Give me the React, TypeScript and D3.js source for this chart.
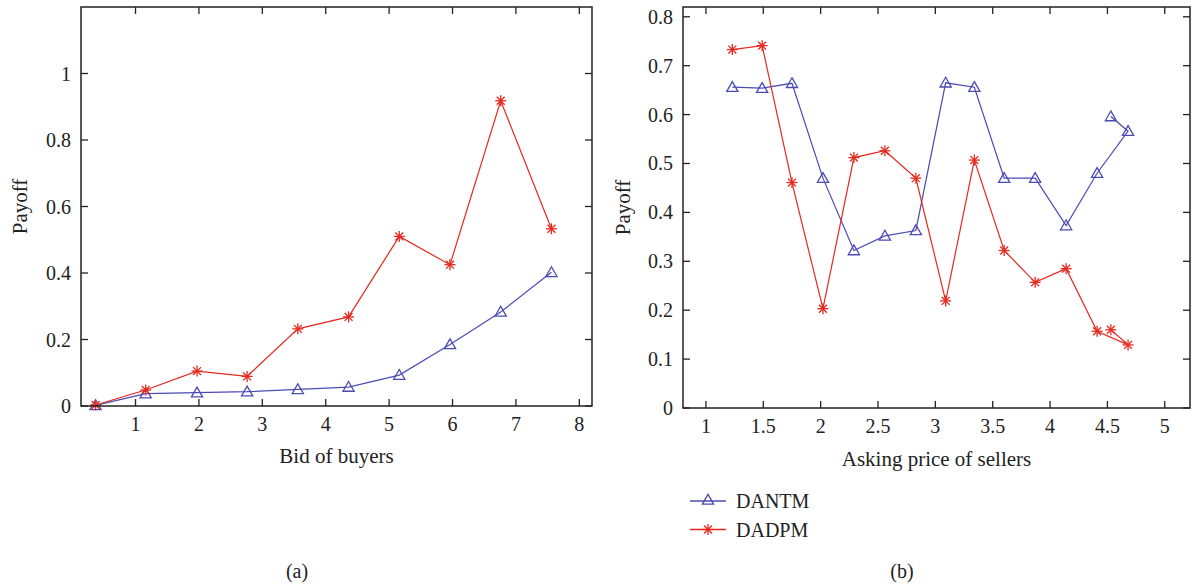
import React from "react";
import * as d3 from "d3";

// Panel (a)
const bidX = [0.37, 1.16, 1.97, 2.76, 3.56, 4.36, 5.16, 5.96, 6.76, 7.56];
const dantmA = [0.002, 0.037, 0.04, 0.043, 0.05, 0.057, 0.093, 0.185, 0.283, 0.402];
const dadpmA = [0.003, 0.048, 0.105, 0.089, 0.232, 0.268, 0.51, 0.425, 0.918, 0.533];
const xTicksA = [1, 2, 3, 4, 5, 6, 7, 8];
const yTicksA = [0, 0.2, 0.4, 0.6, 0.8, 1];

// Panel (b)
const askX = [1.23, 1.49, 1.75, 2.02, 2.29, 2.56, 2.83, 3.09, 3.34, 3.6, 3.87, 4.14, 4.41, 4.68, 4.53];
const dantmB = [0.656, 0.654, 0.664, 0.47, 0.322, 0.352, 0.363, 0.665, 0.656, 0.47, 0.47, 0.373, 0.48, 0.566, 0.596];
const dadpmB = [0.733, 0.741, 0.461, 0.203, 0.512, 0.526, 0.47, 0.219, 0.507, 0.322, 0.257, 0.285, 0.157, 0.129, 0.16];
const xTicksB = [1, 1.5, 2, 2.5, 3, 3.5, 4, 4.5, 5];
const yTicksB = [0, 0.1, 0.2, 0.3, 0.4, 0.5, 0.6, 0.7, 0.8];

const seriesNames = ["DANTM", "DADPM"];
const BLUE = "#4b4bb5";
const RED = "#e6281e";
const FONT = "'Liberation Serif', 'Times New Roman', serif";
const FS = 20;

function Triangle({ x, y }: { x: number; y: number }) {
  const s = 5.6;
  return (
    <path
      d={`M${x},${y - s}L${x + s},${y + s * 0.75}L${x - s},${y + s * 0.75}Z`}
      fill="none"
      stroke={BLUE}
      strokeWidth={1.3}
    />
  );
}

function Star({ x, y }: { x: number; y: number }) {
  const s = 5.5;
  const d = s * 0.72;
  return (
    <g stroke={RED} strokeWidth={1.3}>
      <line x1={x - s} y1={y} x2={x + s} y2={y} />
      <line x1={x} y1={y - s} x2={x} y2={y + s} />
      <line x1={x - d} y1={y - d} x2={x + d} y2={y + d} />
      <line x1={x - d} y1={y + d} x2={x + d} y2={y - d} />
    </g>
  );
}

type PanelProps = {
  left: number;
  right: number;
  top: number;
  bottom: number;
  xDomain: [number, number];
  yDomain: [number, number];
  xs: number[];
  s1: number[];
  s2: number[];
  xTicks: number[];
  yTicks: number[];
  xLabel: string;
  xLabelY: number;
  yLabelX: number;
  caption: string;
  captionX: number;
};

function Panel(p: PanelProps) {
  const x = d3.scaleLinear().domain(p.xDomain).range([p.left, p.right]);
  const y = d3.scaleLinear().domain(p.yDomain).range([p.bottom, p.top]);
  const line = d3
    .line<[number, number]>()
    .x((d) => x(d[0]))
    .y((d) => y(d[1]));
  const d1 = p.xs.map((v, i) => [v, p.s1[i]] as [number, number]);
  const d2 = p.xs.map((v, i) => [v, p.s2[i]] as [number, number]);
  const tl = 7;
  const fmt = (v: number) => String(+v.toFixed(2));
  return (
    <g fontFamily={FONT} fill="#222">
      <path d={line(d1) || ""} fill="none" stroke={BLUE} strokeWidth={1.2} />
      <path d={line(d2) || ""} fill="none" stroke={RED} strokeWidth={1.2} />
      {d1.map((d, i) => (
        <Triangle key={"t" + i} x={x(d[0])} y={y(d[1])} />
      ))}
      {d2.map((d, i) => (
        <Star key={"s" + i} x={x(d[0])} y={y(d[1])} />
      ))}
      <rect
        x={p.left}
        y={p.top}
        width={p.right - p.left}
        height={p.bottom - p.top}
        fill="none"
        stroke="#222"
        strokeWidth={1.5}
      />
      {p.xTicks.map((t) => (
        <g key={"xt" + t}>
          <line x1={x(t)} x2={x(t)} y1={p.bottom} y2={p.bottom - tl} stroke="#222" strokeWidth={1.3} />
          <line x1={x(t)} x2={x(t)} y1={p.top} y2={p.top + tl} stroke="#222" strokeWidth={1.3} />
          <text x={x(t)} y={p.bottom + 25} textAnchor="middle" fontSize={FS} fill="#222">
            {fmt(t)}
          </text>
        </g>
      ))}
      {p.yTicks.map((t) => (
        <g key={"yt" + t}>
          <line x1={p.left} x2={p.left + tl} y1={y(t)} y2={y(t)} stroke="#222" strokeWidth={1.3} />
          <line x1={p.right} x2={p.right - tl} y1={y(t)} y2={y(t)} stroke="#222" strokeWidth={1.3} />
          <text x={p.left - 10} y={y(t) + 7} textAnchor="end" fontSize={FS} fill="#222">
            {fmt(t)}
          </text>
        </g>
      ))}
      <text x={(p.left + p.right) / 2} y={p.xLabelY} textAnchor="middle" fontSize={FS + 1} fill="#222">
        {p.xLabel}
      </text>
      <text
        transform={`translate(${p.yLabelX},${(p.top + p.bottom) / 2}) rotate(-90)`}
        textAnchor="middle"
        fontSize={FS + 1}
        fill="#222"
      >
        Payoff
      </text>
      <text x={p.captionX} y={578} textAnchor="middle" fontSize={FS} fill="#222">
        {p.caption}
      </text>
    </g>
  );
}

export default function App() {
  return (
    <svg
      width={1193}
      height={584}
      style={{ position: "absolute", left: 0, top: 0, background: "#fff" }}
    >
      <rect width={1193} height={584} fill="#fff" />
      <Panel
        left={81}
        right={592}
        top={7}
        bottom={406}
        xDomain={[0.14, 8.2]}
        yDomain={[0, 1.2]}
        xs={bidX}
        s1={dantmA}
        s2={dadpmA}
        xTicks={xTicksA}
        yTicks={yTicksA}
        xLabel="Bid of buyers"
        xLabelY={463}
        yLabelX={27}
        caption="(a)"
        captionX={297}
      />
      <Panel
        left={683}
        right={1190}
        top={7}
        bottom={408}
        xDomain={[0.8, 5.22]}
        yDomain={[0, 0.82]}
        xs={askX}
        s1={dantmB}
        s2={dadpmB}
        xTicks={xTicksB}
        yTicks={yTicksB}
        xLabel="Asking price of sellers"
        xLabelY={466}
        yLabelX={630}
        caption="(b)"
        captionX={902}
      />
      <g fontFamily={FONT}>
        {seriesNames.map((name, i) => {
          const yy = 501 + i * 28.5;
          return (
            <g key={name}>
              <line x1={690} x2={726} y1={yy} y2={yy} stroke={i === 0 ? BLUE : RED} strokeWidth={1.3} />
              {i === 0 ? <Triangle x={708} y={yy - 1} /> : <Star x={708} y={yy} />}
              <text x={736} y={yy + 7} fontSize={FS} fill="#222">
                {name}
              </text>
            </g>
          );
        })}
      </g>
    </svg>
  );
}
